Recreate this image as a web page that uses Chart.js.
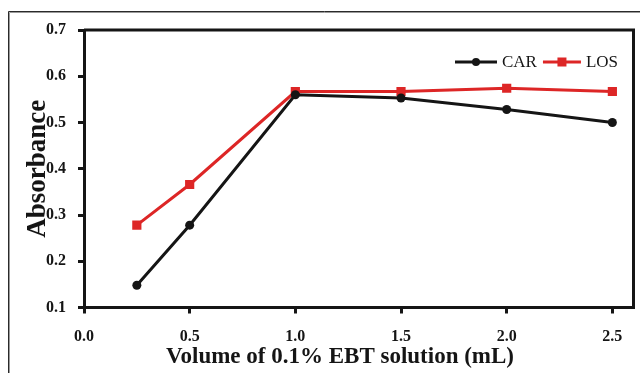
<!DOCTYPE html>
<html>
<head>
<meta charset="utf-8">
<script src="https://cdn.jsdelivr.net/npm/chart.js@4.4.0/dist/chart.umd.min.js"></script>
<style>
  html, body { margin: 0; padding: 0; background: #fff; }
  #wrap { position: relative; width: 640px; height: 373px; }
</style>
</head>
<body>
<div id="wrap"><canvas id="c" width="640" height="373"></canvas></div>
<script>
// ---- data ----
const volumes = [0.25, 0.5, 1.0, 1.5, 2.0, 2.5];
const carValues = [0.148, 0.278, 0.560, 0.553, 0.528, 0.500];
const losValues = [0.278, 0.366, 0.567, 0.567, 0.574, 0.567];
const seriesNames = ['CAR', 'LOS'];
const xTitle = 'Volume of 0.1% EBT solution (mL)';
const yTitle = 'Absorbance';

const BLACK = '#151515';
const RED = '#dd2626';
const SERIF = '"Liberation Serif", "Times New Roman", serif';

Chart.defaults.font.family = SERIF;

function pts(xs, ys) { return xs.map((x, i) => ({ x: x, y: ys[i] })); }

// frame, titles, legend
const decor = {
  id: 'decor',
  beforeDraw(chart) {
    const ctx = chart.ctx;
    ctx.save();
    ctx.strokeStyle = '#9a9a9a';
    ctx.lineWidth = 1;
    ctx.beginPath();
    ctx.moveTo(9.5, 373); ctx.lineTo(9.5, 12.5); ctx.lineTo(640, 12.5);
    ctx.stroke();
    ctx.strokeStyle = '#2a2a2a';
    ctx.beginPath();
    ctx.moveTo(8.5, 373); ctx.lineTo(8.5, 11.5); ctx.lineTo(640, 11.5);
    ctx.stroke();
    ctx.restore();
  },
  afterDraw(chart) {
    const ctx = chart.ctx;
    const a = chart.chartArea;
    ctx.save();
    // top and right frame of plot
    ctx.strokeStyle = BLACK;
    ctx.lineWidth = 3;
    ctx.beginPath();
    ctx.moveTo(a.left, a.top); ctx.lineTo(a.right, a.top); ctx.lineTo(a.right, a.bottom);
    ctx.stroke();

    // axis titles
    ctx.fillStyle = BLACK;
    ctx.font = 'bold 23px ' + SERIF;
    ctx.textAlign = 'center';
    ctx.textBaseline = 'middle';
    ctx.fillText(xTitle, 340, 357);
    ctx.save();
    ctx.translate(38, (a.top + a.bottom) / 2);
    ctx.rotate(-Math.PI / 2);
    ctx.font = 'bold 27px ' + SERIF;
    ctx.fillText(yTitle, 0, 0);
    ctx.restore();

    // legend
    ctx.font = '17px ' + SERIF;
    ctx.textAlign = 'left';
    ctx.textBaseline = 'middle';
    const ly = a.top + 32;
    let x = 455;
    chart.data.datasets.forEach((ds, i) => {
      const len = i === 0 ? 42 : 38;
      ctx.strokeStyle = ds.borderColor;
      ctx.lineWidth = 3;
      ctx.beginPath();
      ctx.moveTo(x, ly); ctx.lineTo(x + len, ly);
      ctx.stroke();
      ctx.fillStyle = ds.borderColor;
      const cx = x + len / 2;
      if (ds.pointStyle === 'rect') {
        ctx.fillRect(cx - 4.5, ly - 4.5, 9, 9);
      } else {
        ctx.beginPath(); ctx.arc(cx, ly, 4, 0, Math.PI * 2); ctx.fill();
      }
      x += len + 5;
      ctx.fillStyle = BLACK;
      ctx.fillText(ds.label, x, ly + 1);
      x += ctx.measureText(ds.label).width + 6;
    });
    ctx.restore();
  }
};

new Chart(document.getElementById('c'), {
  type: 'line',
  data: {
    datasets: [
      {
        label: seriesNames[0],
        data: pts(volumes, carValues),
        borderColor: BLACK,
        backgroundColor: BLACK,
        borderWidth: 3,
        pointStyle: 'circle',
        pointRadius: 4.5,
        pointHoverRadius: 4.5,
        pointBorderWidth: 0,
        tension: 0
      },
      {
        label: seriesNames[1],
        data: pts(volumes, losValues),
        borderColor: RED,
        backgroundColor: RED,
        borderWidth: 3,
        pointStyle: 'rect',
        pointRadius: 6.5,
        pointHoverRadius: 6.5,
        pointBorderWidth: 0,
        tension: 0
      }
    ]
  },
  options: {
    responsive: false,
    animation: false,
    events: [],
    layout: { padding: { left: 0, top: 30, right: 6, bottom: 0 } },
    plugins: { legend: { display: false }, tooltip: { enabled: false } },
    scales: {
      x: {
        type: 'linear',
        min: 0, max: 2.6,
        grid: { display: true, drawOnChartArea: false, drawTicks: true, tickLength: 6, lineWidth: 3, color: BLACK },
        border: { display: true, width: 3, color: BLACK },
        ticks: {
          stepSize: 0.5, includeBounds: false, maxRotation: 0, padding: 14,
          color: BLACK, font: { size: 16, weight: 'bold' },
          callback: v => Number(v).toFixed(1)
        },
        afterFit(s) { s.height = 65.5; s.paddingLeft = 0; s.paddingRight = 0; }
      },
      y: {
        min: 0.1, max: 0.7,
        grid: { display: true, drawOnChartArea: false, drawTicks: true, tickLength: 6, lineWidth: 3, color: BLACK },
        border: { display: true, width: 3, color: BLACK },
        ticks: {
          stepSize: 0.1, padding: 12,
          color: BLACK, font: { size: 16, weight: 'bold' },
          callback: v => Number(v).toFixed(1)
        },
        afterFit(s) { s.width = 84; s.paddingTop = 0; s.paddingBottom = 0; }
      }
    }
  },
  plugins: [decor]
});
</script>
</body>
</html>
